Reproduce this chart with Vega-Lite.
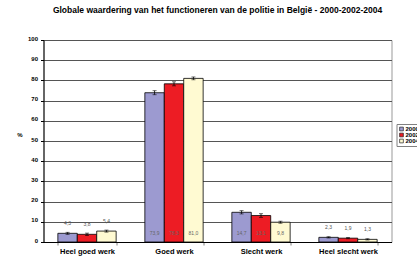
{
  "$schema": "https://vega.github.io/schema/vega-lite/v6.json",
  "autosize": {"type": "none"},
  "width": 348,
  "height": 202,
  "padding": {"left": 43.5, "top": 40, "right": 25.5, "bottom": 17},
  "background": "white",
  "title": {
    "text": "Globale waardering van het functioneren van de politie in België - 2000-2002-2004",
    "font": "Liberation Sans",
    "fontSize": 8.5,
    "fontWeight": "bold",
    "color": "#000000",
    "anchor": "middle",
    "offset": 21
  },
  "config": {
    "locale": {"number": {"decimal": ",", "thousands": ".", "grouping": [3], "currency": ["€", ""]}},
    "view": {"stroke": "#999999", "strokeWidth": 1},
    "font": "Liberation Sans",
    "axisY": {
      "labelOverlap": false,
      "titleAngle": 0,
      "titleX": -24,
      "titleY": 94,
      "titleFont": "Liberation Sans",
      "titleFontSize": 6,
      "titleFontWeight": "bold",
      "titleColor": "#000000",
      "titleAlign": "center",
      "titleBaseline": "middle",
      "labelFont": "Liberation Sans",
      "labelFontSize": 6,
      "labelFontWeight": "bold",
      "labelColor": "#000000",
      "labelOffset": -2,
      "labelPadding": 3,
      "domainColor": "#000000",
      "tickColor": "#000000",
      "tickSize": 3,
      "gridColor": "#555555",
      "gridWidth": 1
    }
  },
  "data": {
    "values": [
      {"category": "Heel goed werk", "year": "2000", "value": 4.3, "lo": 3.8, "hi": 4.8},
      {"category": "Heel goed werk", "year": "2002", "value": 3.8, "lo": 3.2, "hi": 4.4},
      {"category": "Heel goed werk", "year": "2004", "value": 5.4, "lo": 4.9, "hi": 5.9},
      {"category": "Goed werk", "year": "2000", "value": 73.9, "lo": 72.9, "hi": 74.9},
      {"category": "Goed werk", "year": "2002", "value": 78.3, "lo": 77.3, "hi": 79.3},
      {"category": "Goed werk", "year": "2004", "value": 81.0, "lo": 80.3, "hi": 81.7},
      {"category": "Slecht werk", "year": "2000", "value": 14.7, "lo": 13.9, "hi": 15.5},
      {"category": "Slecht werk", "year": "2002", "value": 13.1, "lo": 12.2, "hi": 14.0},
      {"category": "Slecht werk", "year": "2004", "value": 9.8, "lo": 9.3, "hi": 10.3},
      {"category": "Heel slecht werk", "year": "2000", "value": 2.3, "lo": 2.0, "hi": 2.6},
      {"category": "Heel slecht werk", "year": "2002", "value": 1.9, "lo": 1.6, "hi": 2.2},
      {"category": "Heel slecht werk", "year": "2004", "value": 1.3, "lo": 1.0, "hi": 1.6}
    ]
  },
  "encoding": {
    "x": {
      "field": "category",
      "type": "nominal",
      "sort": ["Heel goed werk", "Goed werk", "Slecht werk", "Heel slecht werk"],
      "scale": {"paddingInner": 0.33, "paddingOuter": 0.165},
      "axis": {
        "title": null,
        "labelAngle": 0,
        "labelFont": "Liberation Sans",
        "labelFontSize": 7.5,
        "labelFontWeight": "bold",
        "labelColor": "#000000",
        "labelPadding": 2,
        "domainColor": "#000000",
        "tickBand": "extent",
        "tickColor": "#808080",
        "tickSize": 3,
        "grid": false
      }
    },
    "xOffset": {
      "field": "year",
      "type": "nominal",
      "scale": {"paddingInner": 0, "paddingOuter": 0}
    }
  },
  "layer": [
    {
      "mark": {"type": "bar", "stroke": "#000000", "strokeWidth": 0.8},
      "encoding": {
        "y": {
          "field": "value",
          "type": "quantitative",
          "scale": {"domain": [0, 100], "nice": false},
          "axis": {"values": [0, 10, 20, 30, 40, 50, 60, 70, 80, 90, 100], "title": "%"}
        },
        "color": {
          "field": "year",
          "type": "nominal",
          "scale": {"domain": ["2000", "2002", "2004"], "range": ["#9c9ad0", "#ed1c24", "#fffad2"]},
          "legend": {
            "title": null,
            "orient": "none",
            "legendX": 353,
            "legendY": 84,
            "symbolType": "square",
            "symbolSize": 14,
            "symbolStrokeColor": "#000000",
            "symbolStrokeWidth": 0.6,
            "labelFont": "Liberation Sans",
            "labelFontSize": 6,
            "labelFontWeight": "bold",
            "labelColor": "#000000",
            "labelOffset": 1,
            "rowPadding": 0,
            "clipHeight": 6,
            "padding": 2,
            "strokeColor": "#808080",
            "fillColor": "#ffffff"
          }
        }
      }
    },
    {
      "mark": {"type": "rule", "color": "#000000", "strokeWidth": 0.8},
      "encoding": {
        "y": {"field": "lo", "type": "quantitative", "axis": {"values": [0, 10, 20, 30, 40, 50, 60, 70, 80, 90, 100], "title": "%"}},
        "y2": {"field": "hi"}
      }
    },
    {
      "mark": {"type": "tick", "color": "#000000", "orient": "horizontal", "size": 4, "thickness": 0.8},
      "encoding": {"y": {"field": "lo", "type": "quantitative", "axis": {"values": [0, 10, 20, 30, 40, 50, 60, 70, 80, 90, 100], "title": "%"}}}
    },
    {
      "mark": {"type": "tick", "color": "#000000", "orient": "horizontal", "size": 4, "thickness": 0.8},
      "encoding": {"y": {"field": "hi", "type": "quantitative", "axis": {"values": [0, 10, 20, 30, 40, 50, 60, 70, 80, 90, 100], "title": "%"}}}
    },
    {
      "transform": [{"filter": "datum.value < 9"}],
      "mark": {"type": "text", "fontSize": 5, "color": "#555555", "dy": -10, "baseline": "middle", "font": "Liberation Sans"},
      "encoding": {
        "y": {"field": "value", "type": "quantitative", "axis": {"values": [0, 10, 20, 30, 40, 50, 60, 70, 80, 90, 100], "title": "%"}},
        "text": {"field": "value", "type": "quantitative", "format": ".1f"}
      }
    },
    {
      "transform": [{"filter": "datum.value >= 9"}],
      "mark": {"type": "text", "fontSize": 5, "color": "#666666", "dy": -9, "baseline": "middle", "font": "Liberation Sans"},
      "encoding": {
        "y": {"datum": 0, "type": "quantitative", "axis": {"values": [0, 10, 20, 30, 40, 50, 60, 70, 80, 90, 100], "title": "%"}},
        "text": {"field": "value", "type": "quantitative", "format": ".1f"}
      }
    }
  ]
}
